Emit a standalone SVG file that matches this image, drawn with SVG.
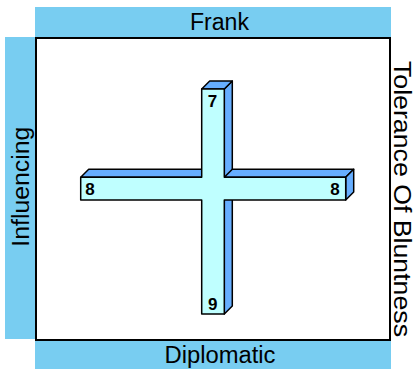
<svg xmlns="http://www.w3.org/2000/svg" width="416" height="369" viewBox="0 0 416 369">
<style>
.bar{fill:#78CDF1}
.lbl{font-family:"Liberation Sans",Arial,sans-serif;font-size:23px;fill:#000}
.num{font-family:"Liberation Sans",Arial,sans-serif;font-size:17px;font-weight:bold;fill:#000;text-anchor:middle}
.side{fill:#66AEFF;stroke:#000;stroke-width:1.5;stroke-linejoin:round}
.front{fill:#BFFFFF;stroke:#000;stroke-width:1.5;stroke-linejoin:round}
</style>
<rect width="416" height="369" fill="#fff"/>
<g id="frank"><rect class="bar" x="35" y="7" width="356" height="30"/><text class="lbl" x="190" y="29.5" textLength="59" lengthAdjust="spacingAndGlyphs">Frank</text></g>
<g id="diplomatic"><rect class="bar" x="35" y="341" width="356" height="28"/><text class="lbl" x="164.5" y="363" textLength="111" lengthAdjust="spacingAndGlyphs">Diplomatic</text></g>
<g id="influencing"><rect class="bar" x="5" y="37" width="30" height="302"/><text class="lbl" transform="translate(29,246.7) rotate(-90)" textLength="120" lengthAdjust="spacingAndGlyphs">Influencing</text></g>
<g id="tolerance"><text class="lbl" transform="translate(394,61) rotate(90)" textLength="276" lengthAdjust="spacingAndGlyphs">Tolerance Of Bluntness</text></g>
<g id="frame"><rect x="36" y="38" width="354" height="302" fill="none" stroke="#000" stroke-width="2"/></g>
<g id="cross">
<polygon class="side" points="224.3,89 232.3,81 232.3,306 224.3,314"/>
<polygon class="side" points="201.7,89 209.7,81 232.3,81 224.3,89"/>
<polygon class="side" points="80.7,177.3 88.7,169.3 209.7,169.3 201.7,177.3"/>
<polygon class="side" points="224.3,177.3 232.3,169.3 353.7,169.3 345.7,177.3"/>
<polygon class="side" points="345.7,177.3 353.7,169.3 353.7,192 345.7,200"/>
<polygon class="front" points="201.7,89 224.3,89 224.3,177.3 345.7,177.3 345.7,200 224.3,200 224.3,314 201.7,314 201.7,200 80.7,200 80.7,177.3 201.7,177.3"/>
</g>
<g id="labels">
<text class="num" x="212.5" y="107">7</text>
<text class="num" x="212.7" y="310">9</text>
<text class="num" x="90" y="195">8</text>
<text class="num" x="335" y="195">8</text>
</g>
</svg>
